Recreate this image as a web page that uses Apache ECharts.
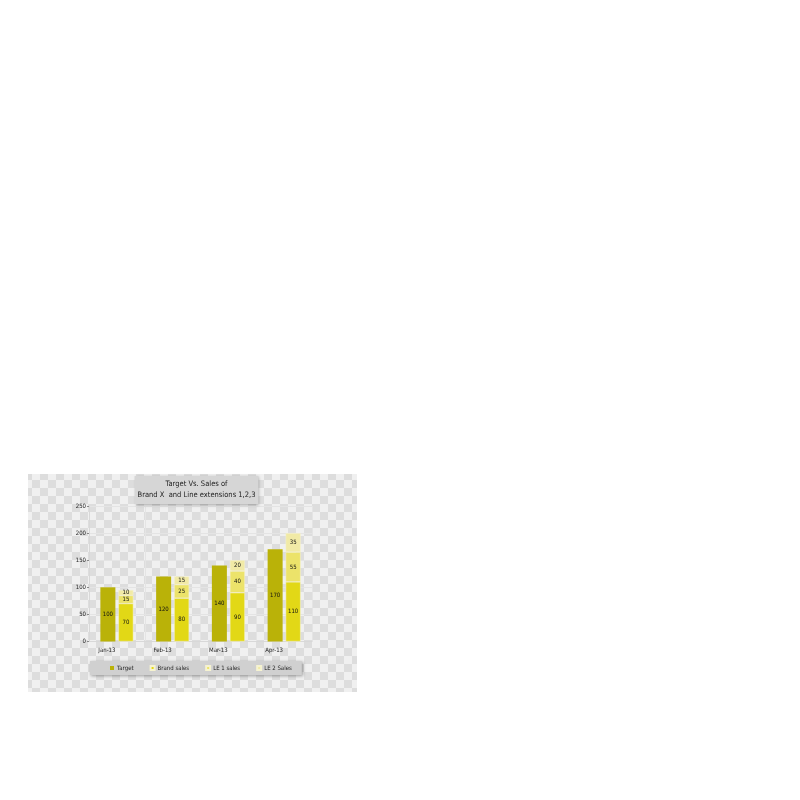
<!DOCTYPE html>
<html>
<head>
<meta charset="utf-8">
<script src="https://cdn.jsdelivr.net/npm/echarts@6/dist/echarts.min.js"></script>
<style>html,body{margin:0;padding:0;background:#fff}#c{width:800px;height:800px}</style>
</head>
<body>
<div id="c"></div>
<script>
const categories = ['Jan-13', 'Feb-13', 'Mar-13', 'Apr-13'];
const target = [100, 120, 140, 170];
const brandSales = [70, 80, 90, 110];
const le1Sales = [15, 25, 40, 55];
const le2Sales = [10, 15, 20, 35];
const yTicks = [0, 50, 100, 150, 200, 250];
const seriesNames = ['Target', 'Brand sales', 'LE 1 sales', 'LE 2 Sales'];

// checkerboard pattern for the background
const pc = document.createElement('canvas');
pc.width = 16; pc.height = 16;
const pctx = pc.getContext('2d');
pctx.fillStyle = '#f0f0f0'; pctx.fillRect(0, 0, 16, 16);
pctx.fillStyle = '#dddddd'; pctx.fillRect(0, 0, 8, 8); pctx.fillRect(8, 8, 8, 8);

const chart = echarts.init(document.getElementById('c'), null, {renderer: 'canvas'});
const font = '"DejaVu Sans Condensed", sans-serif';
const lbl = {show: true, position: 'inside', fontSize: 6, color: '#111', fontFamily: font};

chart.setOption({
  backgroundColor: '#ffffff',
  animation: false,
  graphic: [{
    type: 'rect', z: -10, silent: true,
    shape: {x: 28, y: 474, width: 329, height: 218},
    style: {fill: {image: pc, repeat: 'repeat'}}
  }],
  title: {
    text: 'Target Vs. Sales of\nBrand X  and Line extensions 1,2,3',
    left: 193.5, top: 476,
    textAlign: 'center',
    padding: [3, 3, 3, 3],
    backgroundColor: '#d6d6d6',
    shadowColor: 'rgba(0,0,0,0.35)', shadowBlur: 3, shadowOffsetX: 1, shadowOffsetY: 1,
    textStyle: {fontSize: 7.5, fontWeight: 'normal', color: '#222', lineHeight: 11, fontFamily: font, align: 'center'}
  },
  legend: {
    data: seriesNames,
    left: 90, top: 661,
    padding: [4, 10, 4, 20],
    itemWidth: 4, itemHeight: 4, itemGap: 16,
    backgroundColor: '#d0d0d0',
    shadowColor: 'rgba(0,0,0,0.35)', shadowBlur: 3, shadowOffsetX: 1, shadowOffsetY: 1,
    icon: 'rect',
    textStyle: {fontSize: 6, color: '#222', fontFamily: font, padding: [0, 0, 0, -2]}
  },
  grid: {left: 89, right: 488, top: 506, bottom: 158.5},
  xAxis: {
    type: 'category', data: categories,
    axisLine: {show: true, lineStyle: {color: '#d8d8d8'}},
    axisTick: {show: false},
    splitLine: {show: true, lineStyle: {color: '#e4e4e4', width: 1}},
    axisLabel: {fontSize: 6, color: '#222', margin: 6, fontFamily: font, padding: [0, 20, 0, 0]}
  },
  yAxis: {
    type: 'value', min: 0, max: 250, interval: 50,
    axisLine: {show: true, lineStyle: {color: '#d8d8d8'}},
    axisTick: {show: true, length: 2, lineStyle: {color: '#888'}},
    splitLine: {show: true, lineStyle: {color: '#e4e4e4'}},
    axisLabel: {fontSize: 6, color: '#222', margin: 3, fontFamily: font,
      formatter: v => yTicks.includes(v) ? String(v) : ''}
  },
  series: [
    {name: seriesNames[0], type: 'bar', data: target, barWidth: 15, barGap: '20%',
      itemStyle: {color: '#bab208'}, label: lbl},
    {name: seriesNames[1], type: 'bar', stack: 'sales', data: brandSales, barWidth: 15,
      itemStyle: {color: '#e2d816', borderColor: '#f6f3d0', borderWidth: 0.5}, label: lbl},
    {name: seriesNames[2], type: 'bar', stack: 'sales', data: le1Sales, barWidth: 15,
      itemStyle: {color: '#ece36a', borderColor: '#f6f3d0', borderWidth: 0.5}, label: lbl},
    {name: seriesNames[3], type: 'bar', stack: 'sales', data: le2Sales, barWidth: 15,
      itemStyle: {color: '#f1eaa6', borderColor: '#f6f3d0', borderWidth: 0.5}, label: lbl}
  ]
});
</script>
</body>
</html>
